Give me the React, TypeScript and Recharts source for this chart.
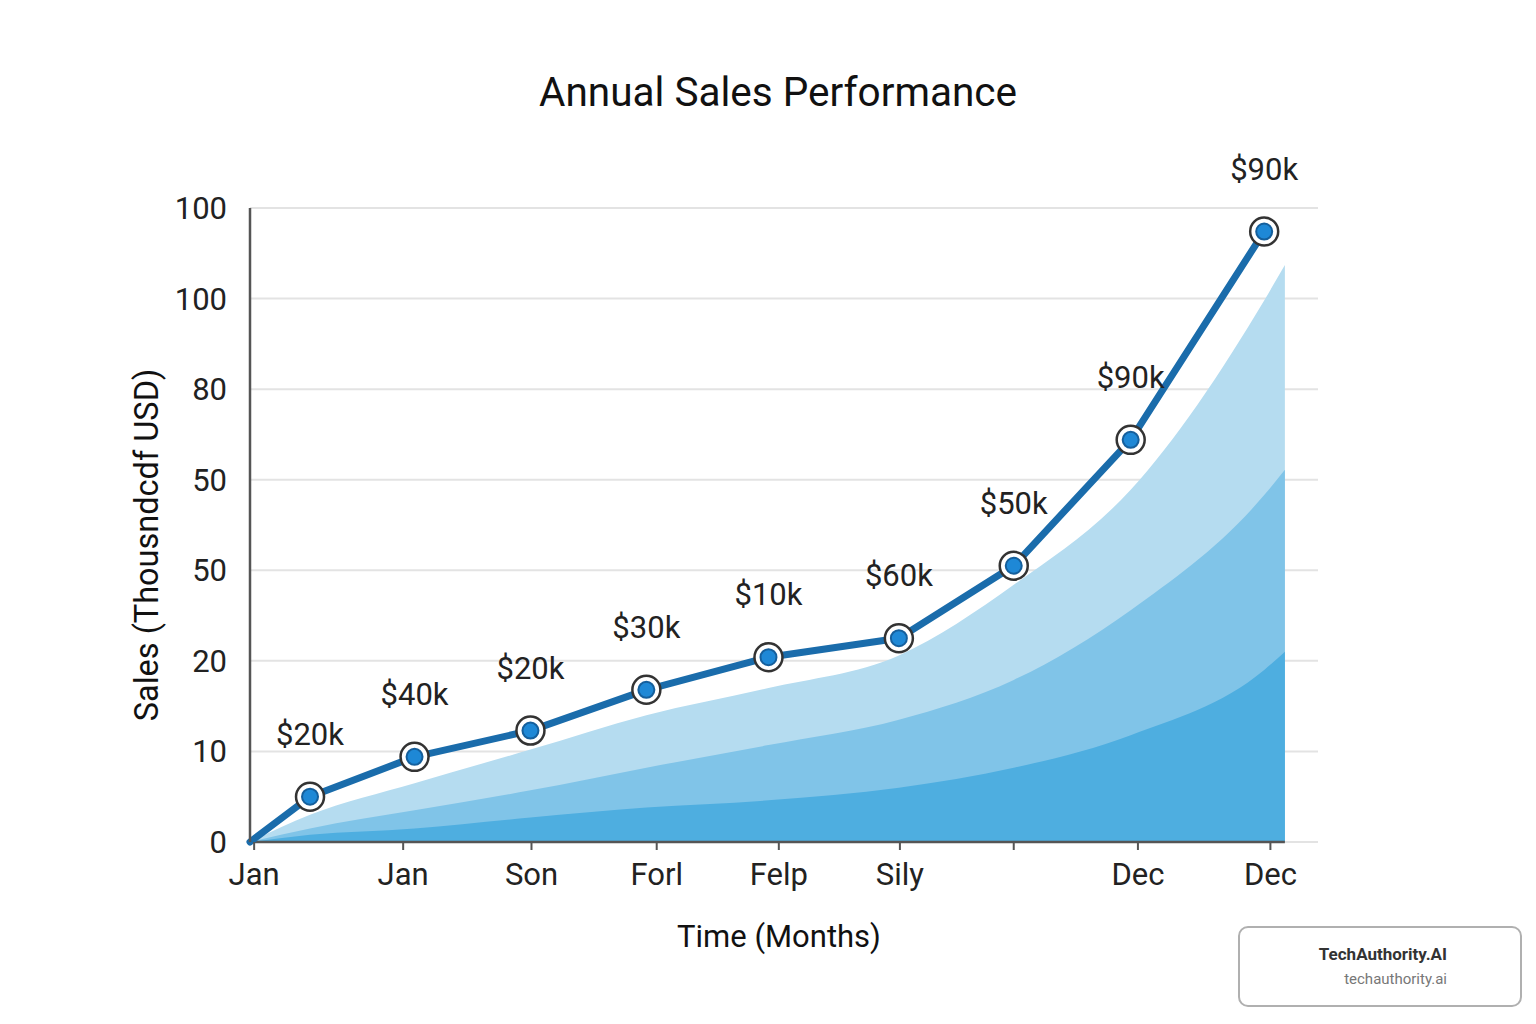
import React from "react";
import {
  ComposedChart,
  Area,
  Line,
  XAxis,
  YAxis,
  CartesianGrid,
  ReferenceLine,
  LabelList,
} from "recharts";

// positions along the time axis (months-ish units)
const xPositions = [0, 0.58, 1.59, 2.71, 3.83, 5.01, 6.27, 7.38, 8.51, 9.8, 10];
const salesValues = [0, 0.5, 0.94, 1.23, 1.68, 2.04, 2.25, 3.05, 4.44, 6.74, null];
const pointLabels = ["", "$20k", "$40k", "$20k", "$30k", "$10k", "$60k", "$50k", "$90k", "$90k", ""];

// background bands
const lightBand = [0, 0.3, 0.65, 1.02, 1.4, 1.7, 2.06, 2.84, 3.89, 5.98, 6.37];
const midBand = [0, 0.15, 0.35, 0.57, 0.82, 1.07, 1.35, 1.79, 2.56, 3.83, 4.11];
const darkBand = [0, 0.08, 0.15, 0.27, 0.38, 0.46, 0.6, 0.82, 1.18, 1.9, 2.1];

const xTickValues = [0.04, 1.48, 2.72, 3.93, 5.11, 6.28, 7.38, 8.58, 9.86];
const xTickLabels = ["Jan", "Jan", "Son", "Forl", "Felp", "Sily", "", "Dec", "Dec"];
const yTickValues = [0, 1, 2, 3, 4, 5, 6, 7];
const yTickLabels = ["0", "10", "20", "50", "50", "80", "100", "100"];

const FONT = "Roboto, 'Noto Sans', sans-serif";

const chartData = xPositions.map((x, i) => ({
  x,
  sales: salesValues[i],
  label: pointLabels[i],
  light: lightBand[i],
  mid: midBand[i],
  dark: darkBand[i],
}));

const SalesDot = (props: any) => {
  const { cx, cy, index, value } = props;
  if (index === 0 || value == null || cx == null || cy == null) {
    return <g key={`dot-${index}`} />;
  }
  return (
    <g key={`dot-${index}`}>
      <circle cx={cx} cy={cy} r={14} fill="#fff" stroke="#333" strokeWidth={2.5} />
      <circle cx={cx} cy={cy} r={8} fill="#1e88d6" stroke="#155f9c" strokeWidth={2} />
    </g>
  );
};

const PointLabel = (props: any) => {
  const { x, y, value } = props;
  if (!value) return null;
  return (
    <text x={x} y={y - 52} textAnchor="middle" fontSize={31} fill="#222" fontFamily={FONT}>
      {value}
    </text>
  );
};

export default function App() {
  return (
    <div style={{ position: "absolute", left: 0, top: 0, width: 1536, height: 1024, background: "#fff", fontFamily: FONT }}>
      <div
        style={{
          position: "absolute",
          left: 778,
          top: 92,
          transform: "translate(-50%, -50%)",
          fontSize: 40.5,
          color: "#111",
          whiteSpace: "nowrap",
        }}
      >
        Annual Sales Performance
      </div>

      <ComposedChart
        width={1536}
        height={1024}
        data={chartData}
        margin={{ top: 208, right: 218, bottom: 122, left: 170 }}
      >
        <CartesianGrid vertical={false} stroke="#e3e3e3" strokeWidth={2} />
        <XAxis
          type="number"
          dataKey="x"
          domain={[0, 10.32]}
          ticks={xTickValues}
          tickFormatter={(v: number, i: number) => xTickLabels[i]}
          axisLine={false}
          tickLine={{ stroke: "#555", strokeWidth: 2 }}
          tickSize={8}
          tickMargin={13}
          height={60}
          interval={0}
          tick={{ fontSize: 31, fill: "#222", fontFamily: FONT }}
        />
        <YAxis
          type="number"
          domain={[0, 7]}
          ticks={yTickValues}
          tickFormatter={(v: number) => yTickLabels[v]}
          axisLine={{ stroke: "#555", strokeWidth: 2.5 }}
          tickLine={false}
          tickMargin={17}
          width={80}
          interval={0}
          tick={{ fontSize: 31, fill: "#222", fontFamily: FONT }}
        />
        <Area
          type="monotone"
          dataKey="light"
          stroke="none"
          fill="#b5dcf0"
          fillOpacity={1}
          isAnimationActive={false}
        />
        <Area
          type="monotone"
          dataKey="mid"
          stroke="none"
          fill="#80c4e8"
          fillOpacity={1}
          isAnimationActive={false}
        />
        <Area
          type="monotone"
          dataKey="dark"
          stroke="none"
          fill="#4eaee0"
          fillOpacity={1}
          isAnimationActive={false}
        />
        <ReferenceLine
          segment={[{ x: 0, y: 0 }, { x: 10, y: 0 }]}
          stroke="#555"
          strokeWidth={2.5}
        />
        <Line
          type="linear"
          dataKey="sales"
          stroke="#1a6cab"
          strokeWidth={7}
          strokeLinejoin="round"
          strokeLinecap="round"
          dot={SalesDot}
          activeDot={false}
          isAnimationActive={false}
        >
          <LabelList dataKey="label" content={PointLabel} />
        </Line>
      </ComposedChart>

      <div
        style={{
          position: "absolute",
          left: 147,
          top: 545,
          transform: "translate(-50%, -50%) rotate(-90deg)",
          fontSize: 32.5,
          color: "#111",
          whiteSpace: "nowrap",
        }}
      >
        Sales (Thousndcdf USD)
      </div>
      <div
        style={{
          position: "absolute",
          left: 779,
          top: 936,
          transform: "translate(-50%, -50%)",
          fontSize: 31,
          color: "#111",
          whiteSpace: "nowrap",
        }}
      >
        Time (Months)
      </div>

      <div
        style={{
          position: "absolute",
          left: 1238,
          top: 926,
          width: 280,
          height: 77,
          border: "2px solid #b0b0b0",
          borderRadius: 10,
          background: "#fff",
          boxSizing: "content-box",
        }}
      >
        <div style={{ position: "absolute", right: 73, top: 16, fontSize: 17, fontWeight: 700, color: "#333" }}>
          TechAuthority.AI
        </div>
        <div style={{ position: "absolute", right: 73, top: 42, fontSize: 15, color: "#777" }}>
          techauthority.ai
        </div>
      </div>
    </div>
  );
}
